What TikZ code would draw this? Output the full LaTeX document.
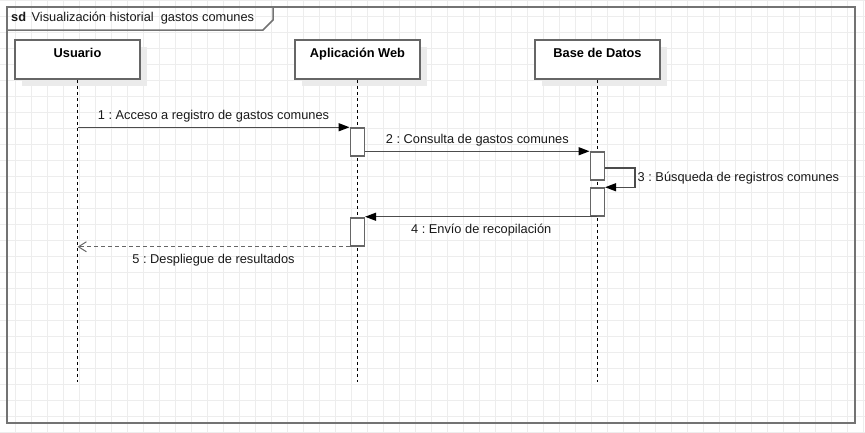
\documentclass[tikz,border=0pt]{standalone}
\usepackage{fontspec}
\setmainfont{Liberation Sans}
\usetikzlibrary{arrows.meta,positioning,shadows}
\frenchspacing

\tikzset{
  rejilla/.style={draw=black!7, line width=0.8pt},
  marco/.style={draw=black!55, line width=2pt},
  cajavida/.style={draw=black!60, line width=1.5pt, fill=white,
    minimum width=125pt, minimum height=39pt, inner sep=0pt,
    drop shadow={shadow xshift=7pt, shadow yshift=-7pt, fill=black!8, opacity=1}},
  titulo/.style={font=\fontsize{12.8}{15}\selectfont\bfseries, inner sep=0pt, anchor=north, yshift=-8.5pt},
  lineavida/.style={black, line width=0.9pt, dash pattern=on 3pt off 3pt},
  activa/.style={draw=black!60, line width=1.5pt, fill=white,
    minimum width=14pt, minimum height=28pt, inner sep=0pt},
  mensaje/.style={draw=black!70, line width=1.3pt, -{Triangle[length=11pt,width=8pt,black]}},
  respuesta/.style={draw=black!60, line width=1.2pt, dash pattern=on 4pt off 3pt,
    -{Straight Barb[length=8pt,width=10pt,line width=1pt]}},
  etiqueta/.style={font=\fontsize{12.8}{15}\selectfont, inner sep=2pt, text=black!90},
}

\begin{document}
\begin{tikzpicture}[x=1pt,y=-1pt]
  \useasboundingbox (0,0) rectangle (865,432);

  % Rejilla de fondo
  \foreach \x in {-1,15,...,863} \draw[rejilla] (\x,0) -- (\x,432);
  \foreach \y in {0,16,...,432} \draw[rejilla] (0,\y) -- (865,\y);

  % Marco del diagrama
  \draw[marco] (7,7) rectangle (855,423);
  \draw[marco, line width=1.5pt] (7,30) -- (263,30) -- (273,20) -- (273,7);
  \node[etiqueta, anchor=west, inner sep=0pt] (marco-titulo) at (11,18.5)
    {\textbf{sd}\hspace{5.5pt}Visualización historial~ gastos comunes};

  % Objetos
  \node[cajavida, label={[titulo]north:Usuario}] (usuario) at (77.5,59.5) {};
  \node[cajavida, label={[titulo]north:Aplicación Web}] (app) at (357.5,59.5) {};
  \node[cajavida, label={[titulo]north:Base de Datos}] (bd) at (597.5,59.5) {};

  % Lineas de vida
  \coordinate (fin) at (0,382);
  \foreach \n in {usuario,app,bd}
    \draw[lineavida] (\n.south) -- (\n.south |- fin);

  % Activaciones
  \node[activa] (act1) at (357.3,142) {};
  \node[activa] (bd1) at (597.3,166) {};
  \node[activa] (bd2) at (597.3,202) {};
  \node[activa] (act2) at (357.3,232) {};

  % Mensajes
  \draw[mensaje] (usuario.south |- act1.north) -- (act1.north west)
    node[etiqueta, midway, above=2.5pt] {1 : Acceso a registro de gastos comunes};
  \draw[mensaje] (act1.east |- bd1.north) -- (bd1.north west)
    node[etiqueta, midway, above=2.5pt] {2 : Consulta de gastos comunes};
  \draw[mensaje] ([yshift=-2pt]bd1.east) -- ++(30,0) |- (bd2.north east)
    node[etiqueta, pos=0.25, right] {3 : Búsqueda de registros comunes};
  \draw[mensaje] (bd2.south) -- (bd2.south -| act2.east)
    node[etiqueta, midway, below=4.5pt] {4 : Envío de recopilación};
  \draw[respuesta] (act2.south west) -- (act2.south west -| usuario.south)
    node[etiqueta, midway, below=4.5pt] {5 : Despliegue de resultados};
\end{tikzpicture}
\end{document}
